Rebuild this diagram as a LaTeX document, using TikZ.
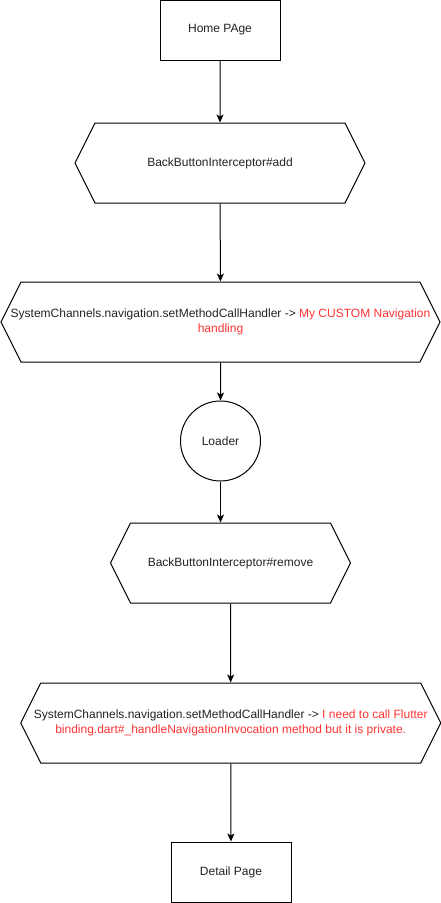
\documentclass[tikz,border=0pt]{standalone}
\usepackage{xcolor}
\usepackage{fontspec}
\setmainfont{Liberation Sans}
\usetikzlibrary{shapes.symbols,arrows.meta}

\definecolor{notered}{HTML}{FF3333}
\definecolor{textgrey}{HTML}{222222}

\tikzset{
    pagebox/.style={draw, line width=1pt, minimum width=120pt, minimum height=60pt, inner sep=0pt},
    hexbox/.style={draw, line width=1pt, signal, signal to=west and east, signal pointer angle=126.87,
        minimum height=80pt, inner ysep=0pt, inner xsep=-22pt, align=center},
    loaderbox/.style={draw, line width=1pt, circle, minimum size=80pt, inner sep=0pt},
    flow/.style={line width=1pt, -{Stealth[length=8pt,width=7pt,inset=2pt]}}
}

\begin{document}
\begin{tikzpicture}[x=1pt, y=-1pt, font=\fontsize{12}{15}\selectfont\color{textgrey}]
    \useasboundingbox (0,0) rectangle (441,903);

    % pages
    \node[pagebox] (home) at (220,30) {Home PAge};
    \node[pagebox] (detail) at (231,872) {Detail Page};

    % steps
    \node[hexbox, minimum width=290pt] (add) at (220,163) {BackButtonInterceptor\#add};
    \node[hexbox, minimum width=439pt] (custom) at (220.5,322)
        {SystemChannels.navigation.setMethodCallHandler -> \textcolor{notered}{My CUSTOM Navigation}\\
         \textcolor{notered}{handling}};
    \node[loaderbox] (loader) at (220.5,441) {Loader};
    \node[hexbox, minimum width=240pt] (remove) at (230.5,563) {BackButtonInterceptor\#remove};
    \node[hexbox, minimum width=420pt] (private) at (230.7,723)
        {SystemChannels.navigation.setMethodCallHandler -> \textcolor{notered}{I need to call Flutter}\\
         \textcolor{notered}{binding.dart\#\_handleNavigationInvocation method but it is private.}};

    % connectors
    \draw[flow] (home) -- (add);
    \draw[flow] (add) -- (custom);
    \draw[flow] (custom) -- (loader);
    \draw[flow] (loader.south) -- (loader.south |- remove.north);
    \draw[flow] (remove) -- (private);
    \draw[flow] (private) -- (detail);

\end{tikzpicture}
\end{document}
